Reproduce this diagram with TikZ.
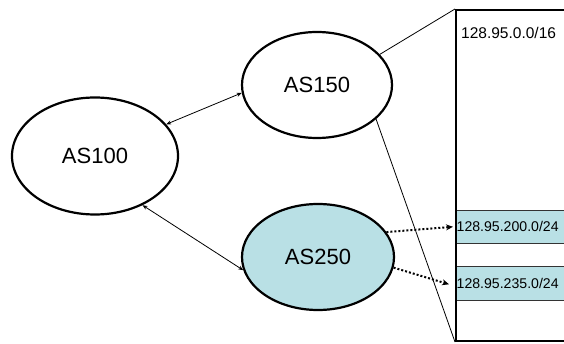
\documentclass[tikz,border=0pt]{standalone}
\usepackage{fontspec}
\setmainfont{Liberation Sans}
\usepackage{tikz}
\usetikzlibrary{shapes.geometric, positioning, arrows.meta}
\definecolor{ASBlue}{RGB}{185,224,229}

\begin{document}
\begin{tikzpicture}[x=1pt, y=-1pt,
          asnode/.style={ellipse, draw, line width=2.2pt, inner sep=0pt,
                         font=\fontsize{22}{26}\selectfont},
          prefixbox/.style={rectangle, draw=black!80, fill=ASBlue, line width=0.6pt,
                         minimum width=130pt, minimum height=33pt, anchor=north west},
          ptext/.style={anchor=west, inner sep=0pt, font=\fontsize{14.1}{17}\selectfont},
          link/.style={{Stealth[length=5pt,width=4pt]}-{Stealth[length=5pt,width=4pt]}, line width=0.8pt},
          adv/.style={-{Stealth[length=7pt,width=6pt]}, line width=2pt, dotted},
          ribline/.style={line width=0.8pt}
        ]
        \useasboundingbox (0,0) rectangle (564,344);
        \clip (0,0) rectangle (564,344);

        % AS nodes
        \node[asnode, minimum width=166pt, minimum height=117pt] (as100) at (95,156) {AS100};
        \node[asnode, minimum width=150pt, minimum height=106pt] (as150) at (317,85) {AS150};
        \node[asnode, fill=ASBlue, minimum width=152pt, minimum height=106pt] (as250) at (318,257) {AS250};

        % Routing table of AS150
        \node[prefixbox] (p200) at (455,210) {};
        \node[prefixbox, minimum height=34pt] (p235) at (455,266) {};
        \node[rectangle, draw, line width=2pt, anchor=north west,
              minimum width=140pt, minimum height=331pt] (rib) at (455,9) {};
        \node[ptext, font=\fontsize{15.5}{18}\selectfont] (p16) at (461,33) {128.95.0.0/16};
        \node[ptext] (t200) at ([xshift=1.5pt]p200.west) {128.95.200.0/24};
        \node[ptext] (t235) at ([xshift=1.5pt]p235.west) {128.95.235.0/24};

        % Peering links
        \draw[link] (as100.24) -- (as150.186);
        \draw[link] (as100.-46) -- (as250.190);

        % Table outline
        \draw[ribline] (as150.26) -- (rib.north west);
        \draw[ribline] (as150.-30) -- (rib.south west);

        % Advertised prefixes
        \draw[adv] (as250.20) -- ([xshift=-2pt]p200.west);
        \draw[adv] (as250.-8) -- ([xshift=-6pt,yshift=-1pt]p235.west);
      \end{tikzpicture}
\end{document}
